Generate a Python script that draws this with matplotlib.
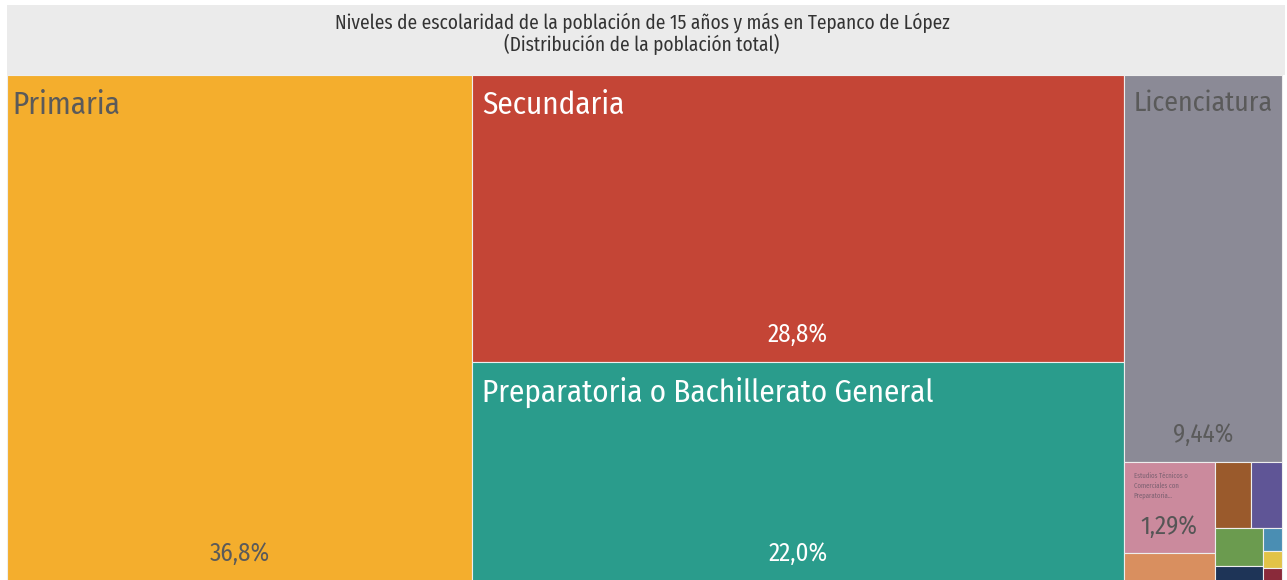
import matplotlib
matplotlib.use("Agg")
import matplotlib.pyplot as plt
from matplotlib.patches import Rectangle

plt.rcParams['font.family'] = ['Fira Sans Condensed', 'Asap Condensed', 'DejaVu Sans']

titulo = "Niveles de escolaridad de la población de 15 años y más en Tepanco de López\n(Distribución de la población total)"

niveles = ["Primaria", "Secundaria", "Preparatoria o Bachillerato General", "Licenciatura",
           "Estudios Técnicos o\nComerciales con\nPreparatoria...",
           "Estudios Técnicos o Comerciales con Secundaria", "Normal de Licenciatura",
           "Maestría", "Preescolar", "Estudios Técnicos o Comerciales con Primaria",
           "Doctorado", "Especialidad", "Normal Básica"]
porcentajes = [36.8, 28.8, 22.0, 9.44, 1.29, 0.39, 0.37, 0.31, 0.28, 0.11, 0.07, 0.05, 0.04]
etiquetas_pct = ["36,8%", "28,8%", "22,0%", "9,44%", "1,29%"]
colores = ["#F4AE2D", "#C44536", "#2A9C8C", "#8B8A96", "#CB8A9D", "#D98F5F", "#9A5A2C",
           "#5F5596", "#6B9B4F", "#1E3457", "#4A8EB3", "#E2C347", "#8A2A3A"]
texto_claro = [False, True, True, False, False]

def squarify(values, x0, y0, x1, y1, ratio=(1 + 5 ** 0.5) / 2):
    # squarified treemap, same idea as d3.treemapSquarify
    rects = []
    total = sum(values)
    i0, n = 0, len(values)
    while i0 < n:
        dx, dy = x1 - x0, y1 - y0
        s = values[i0]
        vmin = vmax = s
        alpha = max(dy / dx, dx / dy) / (total * ratio)
        beta = s * s * alpha
        best = max(vmax / beta, beta / vmin)
        i1 = i0 + 1
        while i1 < n:
            v = values[i1]
            s2 = s + v
            beta = s2 * s2 * alpha
            r = max(max(vmax, v) / beta, beta / min(vmin, v))
            if r > best:
                break
            s, best = s2, r
            vmin, vmax = min(vmin, v), max(vmax, v)
            i1 += 1
        if dx < dy:
            h = dy * s / total
            x = x0
            for v in values[i0:i1]:
                w = dx * v / s
                rects.append((x, y0, w, h))
                x += w
            y0 += h
        else:
            w = dx * s / total
            y = y0
            for v in values[i0:i1]:
                hh = dy * v / s
                rects.append((x0, y, w, hh))
                y += hh
            x0 += w
        total -= s
        i0 = i1
    return rects

fig = plt.figure(figsize=(12.87, 5.8), dpi=100)
ax = fig.add_axes([0, 0, 1, 1])
ax.set_xlim(0, 1287)
ax.set_ylim(580, 0)
ax.axis("off")

ax.add_patch(Rectangle((7, 5), 1278, 70, color="#EBEBEB", lw=0))
ax.text(642, 34, titulo, ha="center", va="center", fontsize=13.9, color="#333333", linespacing=1.05)

# the treemap starts a little left of the visible area (cropped like the original)
rects = squarify(porcentajes, 0, 75, 1282, 581)
for i, (x, y, w, h) in enumerate(rects):
    if x < 7:
        w, x = w - (7 - x), 7
    ax.add_patch(Rectangle((x, y), w, h, facecolor=colores[i], edgecolor="#eeeeee", lw=0.8))
    if i >= len(etiquetas_pct):
        continue
    c = "white" if texto_claro[i] else "#5a5a5a"
    if i == 4:
        ax.text(x + 10, y + 11, niveles[i], ha="left", va="top", fontsize=4.8, color="#7a6070", linespacing=1.4)
        ax.text(x + w / 2, y + h - 27, etiquetas_pct[i], ha="center", va="center", fontsize=18, color="#555555")
        continue
    dx = 5 if i == 0 else 10
    ax.text(x + dx, y + 15, niveles[i], ha="left", va="top", fontsize=22.4 if i < 3 else 20, color=c)
    ax.text(x + w / 2, y + h - 27, etiquetas_pct[i], ha="center", va="center", fontsize=18, color=c)

fig.savefig("out.png", dpi=100)
